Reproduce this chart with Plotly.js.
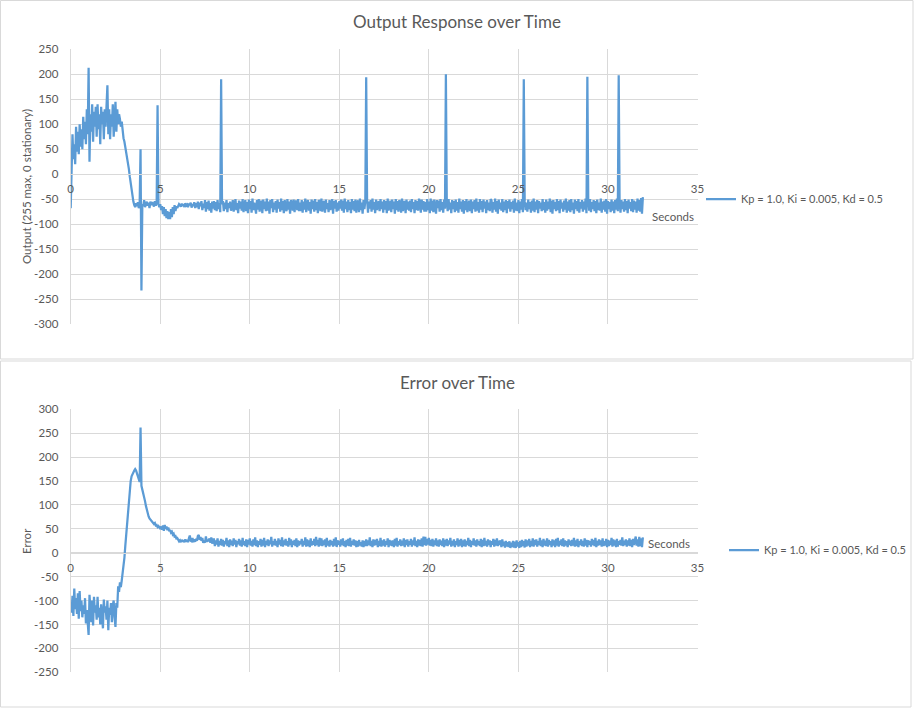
<!DOCTYPE html>
<html>
<head>
<meta charset="utf-8">
<title>PID response</title>
<script src="https://cdn.plot.ly/plotly-3.0.1.min.js"></script>
<style>
  html, body { margin: 0; padding: 0; background: #fff; overflow: hidden; width: 914px; height: 708px; }
  #chart { width: 914px; height: 708px; }
</style>
</head>
<body>
<div id="chart"></div>
<script>
// sample times: first sample and step, in seconds
const T0 = 0;
const DT = 0.05;

const seriesName = 'Kp = 1.0, Ki = 0.005, Kd = 0.5';
const xTicks = [0, 5, 10, 15, 20, 25, 30, 35];
const yTicksOutput = [-300, -250, -200, -150, -100, -50, 0, 50, 100, 150, 200, 250];
const yTicksError = [-250, -200, -150, -100, -50, 0, 50, 100, 150, 200, 250, 300];

// output (255 max, 0 stationary), one row per half second
const output = [
    -68, 10, 80, 30, 60, 20, 95, 45, 85, 40,
    100, 55, 90, 50, 115, 70, 105, 60, 130, 80,
    213, 25, 120, 85, 140, 65, 125, 95, 135, 75,
    140, 90, 120, 60, 135, 100, 125, 70, 130, 95,
    140, 178, 80, 130, 70, 120, 95, 140, 75, 115,
    145, 85, 130, 100, 120, 110, 95, 105, 80, 72,
    65, 55, 45, 35, 22, 10, -5, -20, -35, -48,
    -55, -62, -66, -58, -64, -56, -68, -60, 50, -233,
    -60, -64, -52, -66, -58, -55, -63, -57, -68, -55,
    -62, -56, -60, -65, -54, -63, -58, 138, -60, -66,
    -60, -72, -64, -80, -66, -84, -70, -88, -74, -90,
    -76, -90, -70, -86, -66, -80, -62, -74, -64, -68,
    -64, -60, -62, -65, -59, -64, -60, -66, -58, -63,
    -61, -66, -59, -62, -57, -67, -60, -64, -56, -68,
    -58, -66, -55, -70, -57, -64, -54, -72, -59, -68,
    -52, -75, -56, -70, -53, -73, -58, -77, -55, -69,
    -54, -72, -56, -74, -52, -70, -58, -76, 190, -60,
    -54, -74, -57, -70, -52, -76, -58, -68, -55, -73,
    -69, -52, -75, -56, -50, -72, -58, -78, -53, -69,
    -55, -73, -50, -76, -59, -52, -74, -56, -78, -51,
    -70, -54, -77, -49, -72, -57, -66, -79, -52, -71,
    -50, -75, -58, -53, -78, -51, -70, -55, -74, -49,
    -73, -55, -79, -52, -68, -50, -76, -57, -71, -54,
    -77, -51, -69, -56, -75, -49, -72, -54, -78, -52,
    -68, -74, -50, -71, -55, -79, -52, -58, -73, -51,
    -76, -55, -53, -72, -50, -74, -57, -74, -52, -77,
    -55, -71, -49, -76, -57, -52, -73, -56, -79, -51,
    -70, -53, -75, -50, -72, -56, -78, -52, -55, -74,
    -49, -75, -57, -54, -77, -51, -70, -58, -76, -52,
    -72, -55, -50, -79, -54, -69, -52, -75, -57, -73,
    -54, -69, -51, -73, -53, -77, -49, -70, -55, -76,
    -52, -72, -56, -78, -50, -71, -54, -74, -51, -77,
    -55, -53, -76, -49, -72, -57, -79, -52, -70, -54,
    194, -50, -77, -55, -69, -52, -75, -49, -71, -56,
    -78, -51, -72, -60, -54, -74, -50, -70, -55, -77,
    -52, -71, -54, -78, -49, -73, -57, -53, -76, -51,
    -70, -55, -79, -50, -72, -54, -75, -52, -57, -77,
    -49, -74, -56, -54, -78, -51, -71, -55, -73, -53,
    -76, -50, -70, -56, -78, -52, -72, -54, -73, -49,
    -57, -77, -51, -71, -54, -75, -56, -75, -50, -72,
    -55, -78, -49, -73, -53, -76, -51, -70, -79, -52,
    -68, -53, -75, -50, -72, -56, -77, -51, -69, 200,
    -55, -74, -50, -71, -57, -78, -52, -70, -54, -76,
    -51, -73, -56, -77, -49, -70, -55, -75, -52, -79,
    -54, -72, -50, -76, -57, -53, -74, -51, -78, -55,
    -70, -52, -75, -49, -73, -56, -77, -50, -71, -54,
    -76, -51, -69, -55, -78, -52, -72, -57, -74, -50,
    -53, -77, -56, -71, -49, -75, -54, -79, -51, -70,
    -57, -73, -50, -76, -55, -72, -52, -78, -54, -69,
    -51, -75, -56, -70, -53, -77, -49, -73, -57, -74,
    -52, -78, -55, -71, -50, -76, 190, -54, -72, -57,
    -75, -51, -70, -56, -77, -53, -73, -49, -76, -55,
    -71, -52, -78, -54, -69, -57, -74, -50, -72, -56,
    -77, -51, -73, -55, -70, -49, -76, -53, -79, -52,
    -70, -56, -74, -50, -72, -54, -78, -51, -69, -57,
    -75, -53, -71, -49, -77, -55, -73, -52, -76, -50,
    -72, -57, -79, -51, -70, -54, -74, -50, -77, -56,
    -69, -52, -75, -55, -71, -49, -78, 195, -53, -73,
    -50, -76, -56, -70, -52, -74, -54, -78, -51, -72,
    -57, -73, -49, -77, -55, -71, -53, -75, -50, -79,
    -54, -70, -56, -76, -51, -73, -55, -78, -52, -71,
    -49, -74, 198, -57, -77, -52, -70, -55, -75, -50,
    -72, -54, -78, -51, -69, -56, -74, -50, -76, -53,
    -71, -55, -77, -49, -73, -52, -75, -48, -79, -46
];

// error, one row per half second
const error = [
    -104, -125, -90, -132, -75, -118, -95, -128, -85, -138,
    -80, -122, -100, -135, -110, -128, -95, -148, -120, -140,
    -172, -88, -130, -145, -100, -152, -92, -125, -110, -140,
    -92, -135, -115, -150, -108, -130, -158, -98, -125, -112,
    -140, -100, -162, -115, -130, -105, -145, -110, -100, -135,
    -155, -105, -115, -70, -82, -62, -72, -58, -45, -28,
    -10, 15, 40, 65, 90, 112, 135, 150, 160, 165,
    168, 172, 175, 172, 166, 160, 155, 148, 262, 140,
    132, 125, 118, 108, 98, 88, 80, 76, 72, 70,
    68, 65, 63, 60, 62, 57, 58, 54, 56, 52,
    50, 55, 48, 57, 46, 58, 50, 55, 47, 53,
    45, 48, 42, 44, 38, 40, 34, 35, 30, 31,
    28, 24, 26, 22, 27, 23, 26, 22, 28, 23,
    27, 22, 30, 36, 25, 24, 31, 22, 28, 23,
    29, 25, 35, 37, 27, 33, 25, 31, 21, 25,
    21, 34, 23, 27, 24, 30, 21, 32, 19, 28,
    28, 14, 26, 17, 30, 13, 25, 16, 29, 15,
    27, 13, 24, 18, 31, 14, 26, 12, 28, 16,
    25, 14, 30, 17, 27, 12, 24, 18, 29, 15,
    26, 13, 31, 16, 24, 14, 28, 12, 27, 17,
    30, 15, 25, 13, 28, 16, 32, 14, 26, 12,
    24, 17, 29, 13, 27, 15, 31, 12, 25, 16,
    28, 14, 26, 18, 33, 13, 24, 16, 29, 15,
    25, 12, 30, 17, 27, 14, 32, 13, 26, 16,
    29, 15, 24, 13, 31, 16, 28, 12, 25, 17,
    27, 14, 30, 12, 26, 15, 24, 18, 29, 13,
    25, 16, 32, 13, 28, 14, 26, 12, 30, 15,
    24, 17, 29, 14, 33, 16, 27, 13, 31, 15,
    30, 14, 26, 16, 28, 12, 31, 15, 25, 13,
    27, 16, 24, 13, 29, 15, 32, 12, 26, 17,
    25, 13, 28, 16, 30, 14, 24, 12, 27, 15,
    29, 14, 31, 13, 25, 17, 28, 15, 26, 12,
    24, 13, 27, 15, 22, 13, 26, 12, 25, 14,
    28, 14, 26, 16, 32, 14, 25, 12, 28, 15,
    27, 16, 29, 12, 25, 14, 31, 13, 26, 15,
    28, 13, 24, 17, 30, 12, 27, 15, 25, 14,
    26, 12, 29, 15, 31, 13, 24, 16, 28, 14,
    25, 15, 30, 12, 27, 16, 28, 13, 24, 17,
    29, 13, 26, 16, 32, 14, 25, 12, 28, 15,
    27, 14, 30, 13, 34, 16, 33, 15, 29, 17,
    31, 15, 27, 14, 29, 13, 26, 16, 30, 14,
    26, 13, 28, 16, 25, 14, 30, 12, 27, 15,
    29, 14, 26, 17, 31, 13, 25, 15, 28, 12,
    24, 16, 30, 13, 27, 15, 29, 12, 26, 14,
    28, 13, 25, 16, 31, 14, 27, 12, 24, 17,
    30, 15, 26, 13, 28, 16, 24, 14, 29, 12,
    27, 14, 31, 15, 25, 13, 28, 16, 26, 12,
    24, 17, 29, 13, 27, 15, 30, 14, 25, 16,
    26, 12, 28, 14, 23, 11, 25, 13, 22, 12,
    24, 10, 21, 12, 25, 11, 23, 10, 26, 13,
    22, 10, 25, 12, 27, 14, 24, 11, 28, 13,
    26, 15, 29, 12, 25, 14, 30, 13, 27, 16,
    28, 13, 24, 16, 31, 14, 26, 12, 29, 15,
    25, 14, 30, 13, 27, 16, 24, 12, 28, 15,
    26, 12, 29, 15, 31, 13, 25, 16, 28, 14,
    30, 13, 26, 15, 24, 12, 28, 16, 25, 14,
    27, 15, 31, 13, 26, 14, 29, 12, 24, 16,
    28, 14, 25, 13, 30, 15, 27, 12, 26, 17,
    24, 13, 29, 16, 27, 14, 31, 12, 25, 15,
    28, 16, 26, 13, 30, 14, 24, 15, 29, 12,
    27, 14, 25, 16, 31, 13, 28, 15, 26, 12,
    29, 13, 24, 17, 27, 15, 32, 14, 25, 16,
    28, 13, 26, 15, 30, 14, 27, 12, 29, 16,
    26, 34, 15, 28, 13, 33, 14, 30, 12, 32
];

const W = 914, H = 708;
const FONT = 'Lato, "Open Sans", sans-serif';
const TEXT = '#595959';
const GRID = '#d9d9d9';
const BLUE = '#5b9bd5';

// pixel helpers for paper coords (margins are zero)
const px = x => x / W;
const py = y => 1 - y / H;

function xAxis(zeroPos) {
    return {
        domain: [px(70.7), px(697.5)],
        range: [0, 35],
        tickvals: xTicks,
        ticktext: xTicks.map(String),
        showgrid: true,
        gridcolor: GRID,
        gridwidth: 1,
        zeroline: false,
        showline: true,
        linecolor: GRID,
        linewidth: 1,
        anchor: 'free',
        position: zeroPos,
        ticks: '',
        ticklabelstandoff: 4,
        tickfont: { family: FONT, size: 11.5, color: TEXT },
        fixedrange: true
    };
}

function yAxis(domain, ticks, xa) {
    return {
        domain: domain,
        range: [ticks[0], ticks[ticks.length - 1]],
        tickvals: ticks,
        ticktext: ticks.map(String),
        showgrid: true,
        gridcolor: GRID,
        gridwidth: 1,
        zeroline: false,
        showline: true,
        linecolor: GRID,
        linewidth: 1,
        anchor: xa,
        ticks: '',
        ticklabelstandoff: 9,
        tickfont: { family: FONT, size: 11.5, color: TEXT },
        fixedrange: true
    };
}

function textNote(text, x, y, size, angle) {
    return {
        text: text,
        xref: 'paper', yref: 'paper',
        x: px(x), y: py(y),
        xanchor: 'center', yanchor: 'middle',
        showarrow: false,
        textangle: angle || 0,
        font: { family: FONT, size: size, color: TEXT }
    };
}

function box(x0, y0, x1, y1) {
    return {
        type: 'rect', xref: 'paper', yref: 'paper',
        x0: px(x0), x1: px(x1), y0: py(y1), y1: py(y0),
        line: { color: GRID, width: 1 },
        fillcolor: 'rgba(0,0,0,0)',
        layer: 'below'
    };
}

const traces = [
    {
        y: output, x0: T0, dx: DT,
        type: 'scatter', mode: 'lines',
        name: seriesName,
        xaxis: 'x', yaxis: 'y', legend: 'legend',
        line: { color: BLUE, width: 2.25 }
    },
    {
        y: error, x0: T0, dx: DT,
        type: 'scatter', mode: 'lines',
        name: seriesName,
        xaxis: 'x2', yaxis: 'y2', legend: 'legend2',
        line: { color: BLUE, width: 2.25 }
    }
];

const legendStyle = {
    xanchor: 'left', yanchor: 'middle',
    bgcolor: 'rgba(0,0,0,0)',
    borderwidth: 0,
    font: { family: FONT, size: 11, color: TEXT }
};

const layout = {
    width: W,
    height: H,
    autosize: false,
    margin: { l: 0, r: 0, t: 0, b: 0, pad: 0 },
    paper_bgcolor: '#fff',
    plot_bgcolor: '#fff',
    showlegend: true,
    hovermode: false,
    xaxis: xAxis(py(174.3)),
    yaxis: yAxis([py(324), py(49.3)], yTicksOutput, 'x'),
    xaxis2: xAxis(py(552.8)),
    yaxis2: yAxis([py(672.3), py(409.3)], yTicksError, 'x2'),
    legend: Object.assign({ x: px(701), y: py(199) }, legendStyle),
    legend2: Object.assign({ x: px(724), y: py(550) }, legendStyle),
    annotations: [
        textNote('Output Response over Time', 457, 22, 17),
        textNote('Error over Time', 457, 382, 17),
        textNote('Output (255 max, 0 stationary)', 26, 187, 11.5, -90),
        textNote('Error', 26, 541, 11.5, -90),
        textNote('Seconds', 673, 216, 11.5),
        textNote('Seconds', 669, 543, 11.5)
    ],
    shapes: [
        box(0.5, 0.5, 913, 359),
        box(0.5, 361, 911, 707)
    ]
};

Plotly.newPlot('chart', traces, layout, { displayModeBar: false, staticPlot: true });
</script>
</body>
</html>
